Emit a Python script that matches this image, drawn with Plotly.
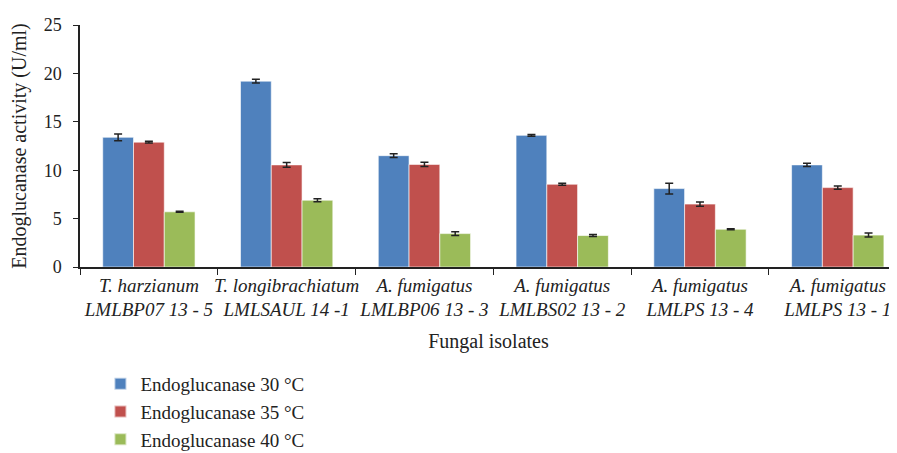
import plotly.graph_objects as go

categories = [
    "T. harzianum<br>LMLBP07 13 - 5",
    "T. longibrachiatum<br>LMLSAUL 14 -1",
    "A. fumigatus<br>LMLBP06 13 - 3",
    "A. fumigatus<br>LMLBS02 13 - 2",
    "A. fumigatus<br>LMLPS 13 - 4",
    "A. fumigatus<br>LMLPS 13 - 1",
]
series_names = ["Endoglucanase 30 °C", "Endoglucanase 35 °C", "Endoglucanase 40 °C"]
vals_30 = [13.4, 19.2, 11.5, 13.6, 8.1, 10.55]
err_30 = [0.35, 0.2, 0.2, 0.1, 0.55, 0.18]
vals_35 = [12.9, 10.55, 10.6, 8.55, 6.5, 8.2]
err_35 = [0.1, 0.25, 0.22, 0.1, 0.22, 0.17]
vals_40 = [5.7, 6.9, 3.45, 3.25, 3.9, 3.3]
err_40 = [0.05, 0.15, 0.2, 0.1, 0.05, 0.2]
colors = ["#4F81BD", "#C0504D", "#9BBB59"]

ticklabels = ["<i>" + c.replace("<br>", "</i><br><i>") + "</i>" for c in categories]

FONT = "Liberation Serif"
fig = go.Figure()
for name, v, e, c in zip(series_names, [vals_30, vals_35, vals_40], [err_30, err_35, err_40], colors):
    fig.add_trace(go.Bar(
        x=ticklabels, y=v, name=name,
        marker=dict(color=c, line=dict(color="rgba(255,255,255,0.6)", width=1)),
        error_y=dict(type="data", array=e, visible=True, color="#222222", thickness=1.5, width=4),
    ))

fig.update_layout(
    width=889, height=445,
    margin=dict(l=72, r=0, t=17, b=186, autoexpand=False),
    paper_bgcolor="white", plot_bgcolor="white",
    barmode="group", bargap=0.33, bargroupgap=0,
    font=dict(family=FONT, size=18, color="#222222"),
    showlegend=True,
    legend=dict(orientation="v", x=0.025, xanchor="left", y=-0.405, yanchor="top",
                font=dict(family=FONT, size=19, color="#222222"),
                tracegroupgap=0, itemsizing="constant", bgcolor="rgba(0,0,0,0)"),
)
fig.update_xaxes(
    type="category", range=[-0.5, 5.43], automargin=False,
    showline=True, linecolor="#222222", linewidth=1.5,
    ticks="outside", tickson="boundaries", ticklen=6, tickcolor="#222222",
    tickangle=0,
    tickfont=dict(family=FONT, size=19, color="#222222"),
    title=dict(text="Fungal isolates", font=dict(family=FONT, size=20, color="#222222"), standoff=15),
    showgrid=False,
)
fig.update_yaxes(
    range=[0, 25], dtick=5, automargin=False,
    showline=True, linecolor="#222222", linewidth=1.5,
    ticks="outside", ticklen=5, tickcolor="#222222", ticklabelstandoff=8,
    tickfont=dict(family=FONT, size=18, color="#222222"),
    title=dict(text="Endoglucanase activity (U/ml)", font=dict(family=FONT, size=20, color="#222222"), standoff=14),
    showgrid=False, zeroline=False,
)
fig.write_html("out.html")
